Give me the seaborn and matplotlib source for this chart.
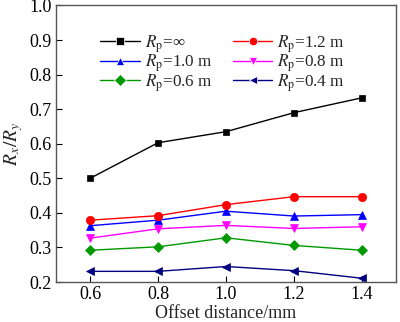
import matplotlib
matplotlib.use("Agg")
import matplotlib.pyplot as plt
import seaborn as sns
import pandas as pd

offsets = [0.6, 0.8, 1.0, 1.2, 1.4]
series_labels = [r"$R_\mathrm{p}$=∞", r"$R_\mathrm{p}$=1.0 m", r"$R_\mathrm{p}$=0.6 m",
                 r"$R_\mathrm{p}$=1.2 m", r"$R_\mathrm{p}$=0.8 m", r"$R_\mathrm{p}$=0.4 m"]
rp_inf = [0.500, 0.603, 0.635, 0.690, 0.733]
rp_10 = [0.363, 0.379, 0.405, 0.391, 0.395]
rp_06 = [0.292, 0.302, 0.328, 0.306, 0.292]
rp_12 = [0.379, 0.392, 0.424, 0.447, 0.447]
rp_08 = [0.327, 0.354, 0.364, 0.355, 0.360]
rp_04 = [0.231, 0.231, 0.245, 0.233, 0.211]
x_ticks = [0.6, 0.8, 1.0, 1.2, 1.4]
y_ticks = [0.2, 0.3, 0.4, 0.5, 0.6, 0.7, 0.8, 0.9, 1.0]

series_values = [rp_inf, rp_10, rp_06, rp_12, rp_08, rp_04]
colors = ["black", "#0000ff", "#009900", "#ff0000", "#ff00ff", "#000080"]
markers = ["s", "^", "D", "o", "v", "<"]
sizes = [5, 6, 5, 6, 6, 6]

rows = []
for lab, vals in zip(series_labels, series_values):
    for x, v in zip(offsets, vals):
        rows.append({"offset": x, "ratio": v, "series": lab})
df = pd.DataFrame(rows)

sns.set_style("ticks")
plt.rcParams["font.family"] = ["Liberation Serif", "DejaVu Serif"]
plt.rcParams["mathtext.fontset"] = "stix"
plt.rcParams["font.size"] = 13

fig = plt.figure(figsize=(4.0, 3.22), dpi=100)
ax = fig.add_axes([0.14, 0.124, 0.85, 0.859])

sns.lineplot(data=df, x="offset", y="ratio", hue="series", style="series",
             hue_order=series_labels, style_order=series_labels,
             palette=dict(zip(series_labels, colors)),
             markers=dict(zip(series_labels, markers)), dashes=False,
             linewidth=1.0, markersize=6, markeredgewidth=0.5, ax=ax)

for line, ms in zip(ax.lines, sizes):
    line.set_markersize(ms)
    line.set_markeredgecolor(line.get_color())

ax.set_xlim(0.5, 1.5)
ax.set_ylim(0.2, 1.0)
ax.set_xticks(x_ticks)
ax.set_xticklabels([f"{t:.1f}" for t in x_ticks])
ax.set_yticks(y_ticks)
ax.set_yticklabels([f"{t:.1f}" for t in y_ticks])
ax.tick_params(direction="in", length=4, width=0.8, labelsize=13,
               colors="black", pad=3)
for s in ax.spines.values():
    s.set_color("#555555")
    s.set_linewidth(1.0)

ax.set_xlabel("Offset distance/mm", fontsize=13, labelpad=1)
ax.set_ylabel(r"$R_x/R_y$", fontsize=14, labelpad=3)

handles, labels = ax.get_legend_handles_labels()
ax.legend(handles, labels, ncol=2, frameon=False, loc="upper left",
          bbox_to_anchor=(0.11, 0.925), fontsize=12.3, handlelength=2.3,
          columnspacing=1.2, labelspacing=-0.12, handletextpad=0.3,
          borderaxespad=0.0)

fig.savefig("out.png", dpi=100)
